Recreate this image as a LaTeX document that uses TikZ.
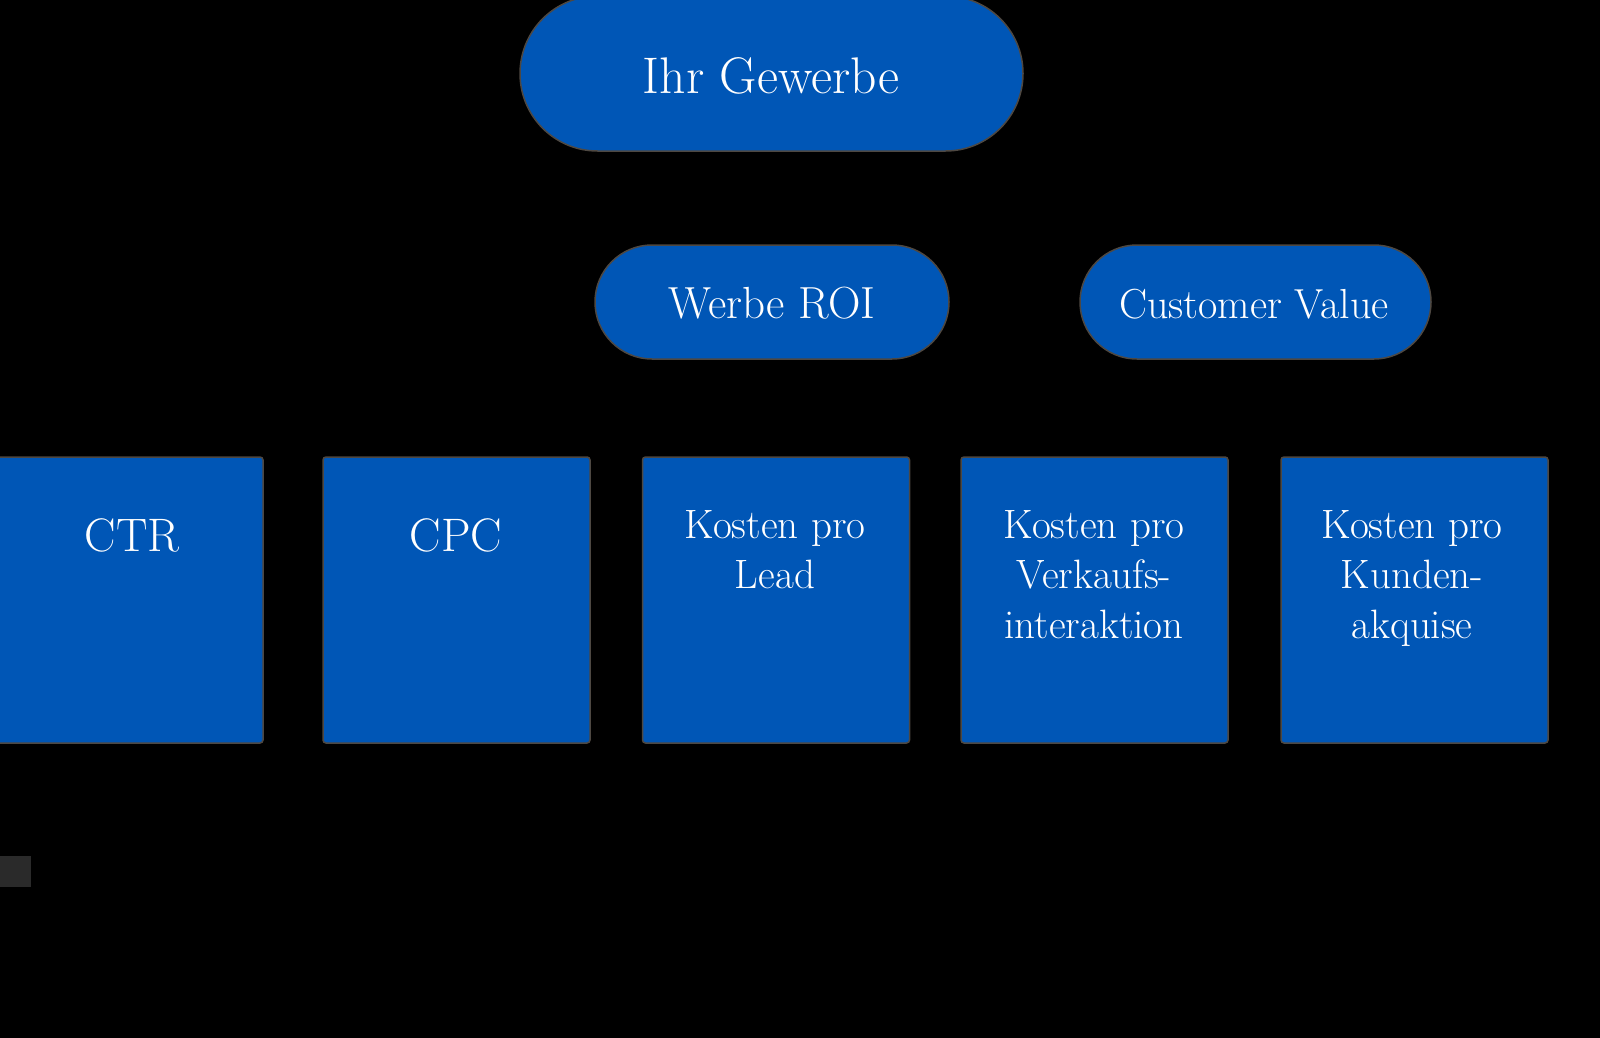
\documentclass[tikz,border=0pt]{standalone}
\usetikzlibrary{shapes.misc}
\definecolor{boxblue}{RGB}{0,86,182}
\definecolor{halo}{RGB}{78,72,66}
\definecolor{greyrect}{RGB}{42,42,42}
\tikzset{
  pill/.style={rounded rectangle, fill=boxblue, draw=halo, line width=1.5pt, inner sep=0pt},
  card/.style={rectangle, rounded corners=3pt, fill=boxblue, draw=halo, line width=1.5pt, inner sep=0pt, minimum width=267pt, minimum height=286pt},
  lbl/.style={text=white, inner sep=0pt, align=center, anchor=base},
  cardtext/.style={lbl, font=\fontsize{41}{50}\selectfont},
}
\begin{document}
\begin{tikzpicture}[x=1pt,y=-1pt]
\useasboundingbox[fill=black] (0,0) rectangle (1600,1038);
% top pill
\node[pill, minimum width=503pt, minimum height=155pt] (gew) at (771.5,73.5) {};
\node[lbl, font=\fontsize{51.5}{60}\selectfont] (tgew) at (771,94) {Ihr Gewerbe};
% second row
\node[pill, minimum width=354pt, minimum height=114pt] (roi) at (772,302) {};
\node[lbl, font=\fontsize{45}{50}\selectfont] (troi) at (772,318) {Werbe ROI};
\node[pill, minimum width=351pt, minimum height=114pt] (cv) at (1255.5,302) {};
\node[lbl, font=\fontsize{42}{50}\selectfont] (tcv) at (1254,318) {Customer Value};
% cards
\node[card, minimum width=268pt] (ctr) at (129,600) {};
\node[card] (cpc) at (456.5,600) {};
\node[card] (lead) at (776,600) {};
\node[card] (vk) at (1094.5,600) {};
\node[card] (ka) at (1414.5,600) {};
\node[lbl, font=\fontsize{47}{50}\selectfont] (tctr) at (132,551) {CTR};
\node[lbl, font=\fontsize{47}{50}\selectfont] (tcpc) at (456,551) {CPC};
\node[cardtext] (tlead) at (775,588) {Kosten pro\\Lead};
\node[cardtext] (tvk) at (1094,638) {Kosten pro\\Verkaufs-\\interaktion};
\node[cardtext] (tka) at (1412,638) {Kosten pro\\Kunden-\\akquise};
% small grey rectangle
\fill[greyrect] (0,856) rectangle (31,887);
\end{tikzpicture}
\end{document}
